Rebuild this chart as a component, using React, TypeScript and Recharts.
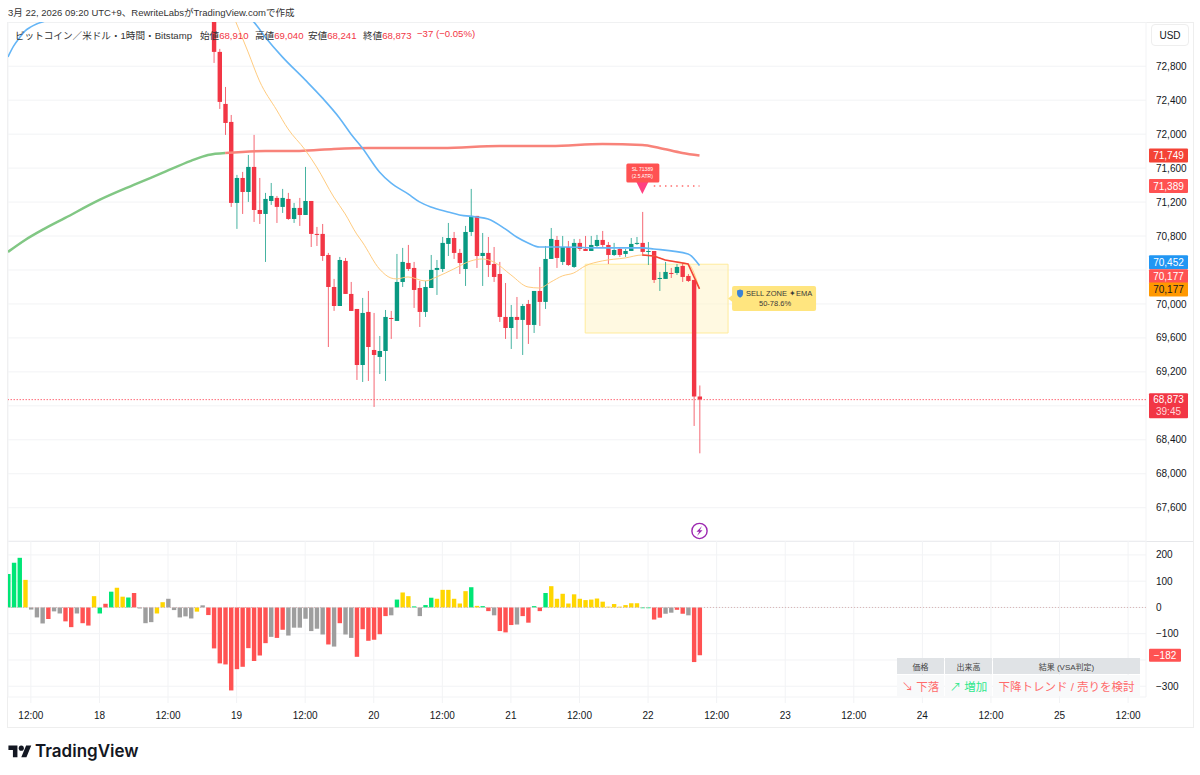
import {
  Bar,
  CartesianGrid,
  Cell,
  ComposedChart,
  Line,
  ReferenceArea,
  ReferenceDot,
  ReferenceLine,
  XAxis,
  YAxis,
} from "recharts";

const FONT = '"Liberation Sans", "Noto Sans CJK JP", sans-serif';
const RED = "#F23645";
const GREEN = "#089981";
const GRID = "#f2f3f5";

// hourly bars, index 0 = 17 Mar 08:00, candles above the visible range start at index 36
const firstCandle = 36;
const opens = [
  73450, 72969, 72356, 72144, 71190, 71484, 71319, 71614, 71107, 71060,
  71213, 71249, 71143, 71237, 71001, 71131, 71048, 71213, 70825, 70825,
  70577, 70200, 69976, 70507, 70118, 69941, 69281, 69906, 69458, 69376,
  69446, 69835, 69800, 70259, 70483, 70424, 70188, 69906, 70188, 70401,
  70412, 70707, 70777, 70601, 70412, 70848, 71037, 70565, 70601, 70471,
  70353, 69847, 69717, 69847, 69812, 70000, 69753, 70153, 70024, 70530,
  70754, 70495, 70671, 70436, 70719, 70648, 70624, 70683, 70754, 70695,
  70577, 70648, 70589, 70624, 70707, 70719, 70613, 70624, 70295, 70295,
  70365, 70365, 70448, 70330, 70283, 68910,
];
const highs = [
  73550, 73004, 72556, 72226, 71520, 71555, 71755, 71991, 71484, 71308,
  71425, 71272, 71355, 71308, 71190, 71249, 71614, 71213, 70907, 70942,
  70601, 70295, 70554, 70542, 70259, 69941, 70071, 70153, 69894, 69623,
  69929, 69918, 70589, 70660, 70695, 70495, 70271, 70271, 70577, 70518,
  70789, 70954, 70848, 70648, 70919, 71355, 71037, 70836, 70789, 70671,
  70495, 70247, 69988, 70082, 70000, 70047, 70153, 70436, 70683, 70895,
  70801, 70801, 70742, 70766, 70766, 70801, 70801, 70813, 70860, 70730,
  70719, 70671, 70648, 70777, 70789, 71084, 70730, 70624, 70377, 70495,
  70424, 70471, 70483, 70353, 70283, 69040,
];
const lows = [
  72839, 72297, 71991, 71143, 70884, 71060, 71202, 70966, 70942, 70495,
  71166, 70954, 71072, 70990, 70954, 70919, 71048, 70671, 70683, 70507,
  69493, 69918, 69976, 70118, 69918, 69105, 69081, 69093, 68787, 69175,
  69093, 69588, 69800, 70200, 70389, 69953, 69729, 69847, 70188, 70106,
  70377, 70565, 70530, 70353, 70212, 70801, 70424, 70212, 70318, 70259,
  69788, 69588, 69470, 69588, 69399, 69529, 69658, 69741, 69941, 70530,
  70424, 70459, 70448, 70424, 70624, 70624, 70624, 70671, 70660, 70471,
  70565, 70554, 70554, 70624, 70695, 70565, 70459, 70247, 70153, 70295,
  70306, 70342, 70259, 70259, 68563, 68241,
];
const closes = [
  72969, 72380, 72132, 71190, 71484, 71319, 71614, 71107, 71060, 71237,
  71272, 71143, 71249, 71001, 71131, 71048, 71213, 70825, 70813, 70565,
  70200, 69976, 70518, 70118, 69918, 69281, 69894, 69493, 69399, 69446,
  69847, 69823, 70259, 70495, 70412, 70165, 69906, 70200, 70401, 70424,
  70719, 70777, 70601, 70483, 70848, 71037, 70565, 70601, 70459, 70318,
  69847, 69717, 69847, 69812, 69976, 69753, 70153, 70024, 70530, 70766,
  70542, 70671, 70459, 70719, 70648, 70624, 70695, 70754, 70695, 70577,
  70636, 70577, 70624, 70707, 70719, 70613, 70624, 70283, 70306, 70377,
  70360, 70436, 70318, 70271, 68910, 68873,
];

// moving averages, read at these bar indexes
const blueIdx = [0, 1, 2, 3, 4, 5, 6, 7, 20, 32, 42, 43, 45, 48, 52, 55, 58, 60, 62, 65, 67, 70, 72, 74, 77, 79, 82, 84, 87, 89, 91, 93, 97, 104, 111, 113, 119, 121];
const blueVals = [72910, 73039, 73133, 73216, 73263, 73298, 73322, 73345, 73800, 73800, 73381, 73322, 73145, 72910, 72639, 72427, 72191, 72003, 71838, 71555, 71425, 71296, 71202, 71143, 71084, 71048, 71025, 71001, 70884, 70789, 70719, 70671, 70671, 70660, 70660, 70648, 70589, 70452];
const orangeIdx = [39, 42, 44, 47, 49, 52, 54, 57, 59, 61, 62, 65, 67, 68, 70, 73, 75, 78, 81, 83, 85, 88, 91, 93, 95, 97, 99, 101, 104, 108, 111, 113, 115, 119, 121];
const orangeVals = [73463, 72969, 72627, 72285, 72062, 71814, 71614, 71260, 71060, 70825, 70730, 70412, 70306, 70295, 70318, 70271, 70318, 70412, 70507, 70530, 70495, 70342, 70200, 70188, 70259, 70330, 70365, 70448, 70507, 70542, 70577, 70565, 70518, 70471, 70177];
const trendUpIdx = [0, 3, 6, 10, 16, 22, 27, 32, 35, 38];
const trendUpVals = [70613, 70754, 70872, 71013, 71225, 71402, 71543, 71685, 71755, 71779];
const trendDownIdx = [38, 45, 51, 57, 63, 69, 76, 86, 95, 104, 111, 114, 118, 121];
const trendDownVals = [71779, 71802, 71802, 71826, 71838, 71838, 71838, 71861, 71861, 71885, 71873, 71838, 71779, 71749];
const triggerIdx = [111, 113, 115, 119, 121];
const triggerVals = [70577, 70565, 70518, 70471, 70177];

const histValues = [
  127, 170, 189, 105, -8, -38, -61, -44, -15, -23,
  -53, -75, -23, -60, -69, 43, -23, 14, 60, 75,
  41, 38, 55, -4, -60, -56, -23, 20, 33, -10,
  -38, -34, -42, -16, 8, -29, -156, -213, -217, -316,
  -235, -226, -155, -204, -183, -136, -112, -116, -85, -107,
  -77, -77, -43, -90, -81, -103, -141, -149, -60, -103,
  -116, -188, -83, -127, -123, -102, -33, -30, 30, 57,
  43, 4, -33, 9, 37, 33, 67, 67, 33, 15,
  62, 77, 6, 5, -14, -30, -90, -95, -67, -65,
  -33, -58, 5, -14, 55, 81, 33, 52, 15, 50,
  33, 28, 30, 34, 22, 3, 13, 3, 9, 16,
  16, -3, -3, -46, -39, -24, -20, -9, -24, -30,
  -208, -182,
];
const histKinds =
  "gggynnnrnnrrnrrygrgyygrnnnyynnnnnynrrrrrrrrrrrnrrnnnnnnnrnrnnrrrrrrngyygnggyyyyyygygrnrrrnrrgrgyyyyyyyyyyyyyyyyggrrnnrrnrr";
const histColors: Record<string, string> = {
  g: "#00E676",
  y: "#FFD600",
  r: "#FF5252",
  n: "#9E9E9E",
};

const priceTicks = [72800, 72400, 72000, 71600, 71200, 70800, 70400, 70000, 69600, 69200, 68800, 68400, 68000, 67600];
const histTicks = [200, 100, 0, -100, -200, -300];
// these tick labels sit behind the price tags in the picture
const coveredTicks = [70400, 68800, -200];
const timeTicks = [4, 16, 28, 40, 52, 64, 76, 88, 100, 112, 124, 136, 148, 160, 172, 184, 196];
const timeLabels = ["12:00", "18", "12:00", "19", "12:00", "20", "12:00", "21", "12:00", "22", "12:00", "23", "12:00", "24", "12:00", "25", "12:00"];

const tagPrices = [71749, 71389, 70452, 70177, 70177];
const tagAnchors = [71749, 71389, 70490, 70325, 70170];
const tagFills = ["#F44336", "#FF5252", "#2196F3", "#FF5252", "#FF9800"];
const tagInks = ["#fff", "#fff", "#fff", "#fff", "#131722"];

const pick = (idx: number[], vals: number[], i: number) => {
  const k = idx.indexOf(i);
  return k < 0 ? undefined : vals[k];
};

const rows = histValues.map((hist, i) => {
  const c = i - firstCandle;
  return {
    i,
    hist,
    kind: histKinds[i],
    open: c >= 0 ? opens[c] : undefined,
    high: c >= 0 ? highs[c] : undefined,
    low: c >= 0 ? lows[c] : undefined,
    close: c >= 0 ? closes[c] : undefined,
    blue: pick(blueIdx, blueVals, i),
    orange: pick(orangeIdx, orangeVals, i),
    trendUp: pick(trendUpIdx, trendUpVals, i),
    trendDown: pick(trendDownIdx, trendDownVals, i),
    trigger: pick(triggerIdx, triggerVals, i),
  };
});

const money = (v: number) => v.toLocaleString("en-US").replace("-", "\u2212");
const tickText = (v: number) => (coveredTicks.includes(v) ? "" : money(v));

function Candle(props: any) {
  const { x, y, width, height, payload } = props;
  if (payload.open == null) return null;
  const { open, high, low, close } = payload;
  const k = height / (high - low);
  const top = y + (high - Math.max(open, close)) * k;
  const bodyH = Math.max(Math.abs(open - close) * k, 1);
  const mid = x + width / 2;
  const color = close >= open ? GREEN : RED;
  return (
    <g>
      <line x1={mid} x2={mid} y1={y} y2={y + height} stroke={color} strokeOpacity={0.75} strokeWidth={1} />
      <rect x={x} y={top} width={width} height={bodyH} fill={color} />
    </g>
  );
}

function priceTag(label: string, fill: string, ink: string) {
  return (props: any) => (
    <g>
      <rect x={props.cx + 3} y={props.cy - 7} width={39} height={14} fill={fill} rx={1} />
      <text x={props.cx + 22.5} y={props.cy + 3.5} textAnchor="middle" fontSize={10} fill={ink} fontFamily={FONT}>
        {label}
      </text>
    </g>
  );
}

function LastTag(props: any) {
  return (
    <g fontFamily={FONT} fontSize={10} textAnchor="middle">
      <rect x={props.cx + 3} y={props.cy - 6.5} width={39} height={25} fill={RED} rx={1} />
      <text x={props.cx + 22.5} y={props.cy + 3} fill="#fff">{money(68873)}</text>
      <text x={props.cx + 22.5} y={props.cy + 15} fill="#ffd5d9">39:45</text>
    </g>
  );
}

function StopTag(props: any) {
  const { cx, cy } = props;
  return (
    <g fontFamily={FONT} fontSize={5} textAnchor="middle" fill="#fff">
      <path d={`M${cx - 6} ${cy - 4}L${cx + 6} ${cy - 4}L${cx} ${cy + 8}Z`} fill="#FF4081" />
      <rect x={cx - 16} y={cy - 22.5} width={33} height={19} rx={1.5} fill="#FF5252" />
      <text x={cx} y={cy - 15}>SL 71389</text>
      <text x={cx} y={cy - 8}>(2.5 ATR)</text>
    </g>
  );
}

function ZoneTag(props: any) {
  const { cx, cy } = props;
  return (
    <g fontFamily={FONT} fontSize={7.5} textAnchor="middle" fill="#3a3a3a">
      <path d={`M${cx} ${cy}L${cx + 5} ${cy - 4}L${cx + 5} ${cy + 4}Z`} fill="#FFE57F" />
      <rect x={cx + 4} y={cy - 12.5} width={84} height={25} rx={2} fill="#FFE57F" />
      <path
        d={`M${cx + 9} ${cy - 8}l3 -1l3 1v3c0 2.2 -1.5 3.5 -3 4.2c-1.5 -0.7 -3 -2 -3 -4.2z`}
        fill="#3b82d6"
      />
      <text x={cx + 51} y={cy - 2.5}>SELL ZONE ✦EMA</text>
      <text x={cx + 47} y={cy + 7}>50-78.6%</text>
    </g>
  );
}

function BoltIcon(props: any) {
  const { cx, cy } = props;
  return (
    <g>
      <circle cx={cx} cy={cy} r={7.6} fill="#fff" stroke="#9C27B0" strokeWidth={1.4} />
      <path
        d={`M${cx + 2.5} ${cy - 5}L${cx - 3} ${cy + 0.8}L${cx - 0.3} ${cy + 0.8}L${cx - 2.5} ${cy + 5}L${cx + 3} ${cy - 0.8}L${cx + 0.3} ${cy - 0.8}Z`}
        fill="#9C27B0"
      />
    </g>
  );
}

function HistTag(props: any) {
  return (
    <g>
      <rect x={props.cx + 3} y={props.cy - 6.5} width={32} height={13} fill="#FF5252" rx={1} />
      <text x={props.cx + 19} y={props.cy + 3.5} textAnchor="middle" fontSize={10} fill="#fff" fontFamily={FONT}>
        {money(-182)}
      </text>
    </g>
  );
}

const abs = (left: number, top: number, rest: any = {}) => ({ position: "absolute" as const, left, top, ...rest });

export default function App() {
  const xEnd = 199.13;
  const cellStyle = { display: "flex", alignItems: "center", justifyContent: "center" };

  return (
    <div style={abs(0, 0, { width: 1200, height: 775, background: "#fff", fontFamily: FONT, overflow: "hidden" })}>
      <div style={abs(8, 5, { fontSize: 9.5, color: "#333", whiteSpace: "nowrap" })}>
        3月 22, 2026 09:20 UTC+9、RewriteLabsがTradingView.comで作成
      </div>
      <div style={abs(7, 22, { width: 1185, height: 704, border: "1px solid #eeeeee" })} />

      <div style={abs(0, 22)}>
        <ComposedChart width={1193} height={519} data={rows} margin={{ top: 0, right: 0, bottom: 0, left: 8 }}>
          <CartesianGrid stroke={GRID} />
          <XAxis
            dataKey="i"
            type="number"
            domain={[0, xEnd]}
            allowDataOverflow
            ticks={timeTicks}
            interval={0}
            height={0}
            tick={false}
            tickLine={false}
            axisLine={false}
          />
          <YAxis
            orientation="right"
            width={47}
            domain={[67208, 73321]}
            allowDataOverflow
            ticks={priceTicks}
            interval={0}
            tickFormatter={tickText}
            tick={{ fontSize: 10, fill: "#131722", fontFamily: FONT, textAnchor: "start" }}
            tickSize={0}
            tickMargin={10}
            axisLine={false}
          />
          <ReferenceArea
            x1={101}
            x2={126}
            y1={69658}
            y2={70468}
            fill="#FFF3C4"
            fillOpacity={0.5}
            stroke="#FFEB9C"
            strokeWidth={1}
            ifOverflow="visible"
          />
          <Line dataKey="trendUp" stroke="#81C784" strokeWidth={2.5} dot={false} connectNulls type="monotone" isAnimationActive={false} />
          <Line dataKey="trendDown" stroke="#F8837A" strokeWidth={2.5} dot={false} connectNulls type="monotone" isAnimationActive={false} />
          <Line dataKey="orange" stroke="#FFCC80" strokeWidth={1} dot={false} connectNulls type="monotone" isAnimationActive={false} />
          <Line dataKey="blue" stroke="#64B5F6" strokeWidth={1.6} dot={false} connectNulls type="monotone" isAnimationActive={false} />
          <Bar
            dataKey={(d: any) => (d.low == null ? undefined : [d.low, d.high])}
            barSize={4.4}
            shape={Candle}
            isAnimationActive={false}
          />
          <Line dataKey="trigger" stroke="#F44336" strokeWidth={1.6} dot={false} connectNulls isAnimationActive={false} />
          <ReferenceLine y={68873} stroke="#FF6B78" strokeWidth={1} strokeDasharray="1.5 1.5" />
          <ReferenceLine
            segment={[{ x: 113, y: 71389 }, { x: 121, y: 71389 }]}
            stroke="#FF6B6B"
            strokeWidth={1.4}
            strokeDasharray="1.5 4.1"
          />
          <ReferenceDot x={111} y={71389} r={0} shape={StopTag} ifOverflow="visible" />
          <ReferenceDot x={126} y={70063} r={0} shape={ZoneTag} ifOverflow="visible" />
          <ReferenceDot x={121} y={67326} r={0} shape={BoltIcon} ifOverflow="visible" />
          {tagPrices.map((p, k) => (
            <ReferenceDot
              key={k}
              x={xEnd}
              y={tagAnchors[k]}
              r={0}
              shape={priceTag(money(p), tagFills[k], tagInks[k])}
              ifOverflow="visible"
            />
          ))}
          <ReferenceDot x={xEnd} y={68873} r={0} shape={LastTag} ifOverflow="visible" />
        </ComposedChart>
      </div>

      <div style={abs(8, 541, { width: 1185, height: 1, background: "#e6e7ea" })} />

      <div style={abs(0, 541)}>
        <ComposedChart width={1193} height={185} data={rows} margin={{ top: 0, right: 0, bottom: 0, left: 8 }}>
          <CartesianGrid stroke={GRID} />
          <XAxis
            dataKey="i"
            type="number"
            domain={[0, xEnd]}
            allowDataOverflow
            ticks={timeTicks}
            interval={0}
            height={29}
            tickFormatter={(v: number) => timeLabels[timeTicks.indexOf(v)]}
            tick={{ fontSize: 10, fill: "#131722", fontFamily: FONT }}
            tickLine={{ stroke: GRID }}
            tickSize={6}
            tickMargin={9}
            axisLine={false}
          />
          <YAxis
            orientation="right"
            width={47}
            domain={[-341, 253]}
            allowDataOverflow
            ticks={histTicks}
            interval={0}
            tickFormatter={tickText}
            tick={{ fontSize: 10, fill: "#131722", fontFamily: FONT, textAnchor: "start" }}
            tickSize={0}
            tickMargin={10}
            axisLine={false}
          />
          <ReferenceLine y={0} stroke="#d8b4b4" strokeWidth={1} strokeDasharray="1 2" />
          <Bar dataKey="hist" barSize={4.4} isAnimationActive={false}>
            {rows.map((r) => (
              <Cell key={r.i} fill={histColors[r.kind]} />
            ))}
          </Bar>
          <ReferenceDot x={xEnd} y={-182} r={0} shape={HistTag} ifOverflow="visible" />
        </ComposedChart>
      </div>

      {/* top legend */}
      <div style={abs(15, 28, { fontSize: 9.6, color: "#333", whiteSpace: "nowrap" })}>ビットコイン／米ドル・1時間・Bitstamp</div>
      {[
        ["始値", "68,910", 200],
        ["高値", "69,040", 255],
        ["安値", "68,241", 308],
        ["終値", "68,873", 363],
      ].map(([name, val, left]) => (
        <div key={name as string} style={abs(left as number, 28, { fontSize: 9.6, color: "#333", whiteSpace: "nowrap" })}>
          {name}
          <span style={{ color: RED }}>{val}</span>
        </div>
      ))}
      <div style={abs(417, 28, { fontSize: 9.6, color: RED, whiteSpace: "nowrap" })}>−37 (−0.05%)</div>

      <div
        style={abs(1151, 24, {
          ...cellStyle,
          width: 36,
          height: 20,
          border: "1px solid #eeeeee",
          borderRadius: 4,
          fontSize: 10,
          color: "#131722",
        })}
      >
        USD
      </div>

      {/* VSA table */}
      <div style={abs(897, 658, { ...cellStyle, width: 47, height: 16, background: "#E0E3E6", fontSize: 8, color: "#444" })}>価格</div>
      <div style={abs(945, 658, { ...cellStyle, width: 47, height: 16, background: "#E0E3E6", fontSize: 8, color: "#444" })}>出来高</div>
      <div style={abs(993, 658, { ...cellStyle, width: 147, height: 16, background: "#E0E3E6", fontSize: 8, color: "#444" })}>結果 (VSA判定)</div>
      <div style={abs(897, 675, { ...cellStyle, width: 47, height: 21, background: "#f8f9fa", fontSize: 11.5, color: "#FF6B6B" })}>↘ 下落</div>
      <div style={abs(945, 675, { ...cellStyle, width: 47, height: 21, background: "#f8f9fa", fontSize: 11.5, color: "#2EE88C" })}>↗ 増加</div>
      <div style={abs(993, 675, { ...cellStyle, width: 147, height: 21, background: "#f8f9fa", fontSize: 11.5, color: "#FF6B6B" })}>下降トレンド / 売りを検討</div>

      {/* logo */}
      <svg style={abs(8, 743)} width={24} height={18} viewBox="0 0 36 28">
        <path d="M14 22H7V11H0V4h14v18zM28 22h-8l7.5-18h8L28 22z" fill="#131722" />
        <circle cx={20} cy={8} r={4} fill="#131722" />
      </svg>
      <div style={abs(35, 741, { fontFamily: "Inter", fontWeight: 600, fontSize: 17, color: "#131722", whiteSpace: "nowrap" })}>
        TradingView
      </div>
    </div>
  );
}
